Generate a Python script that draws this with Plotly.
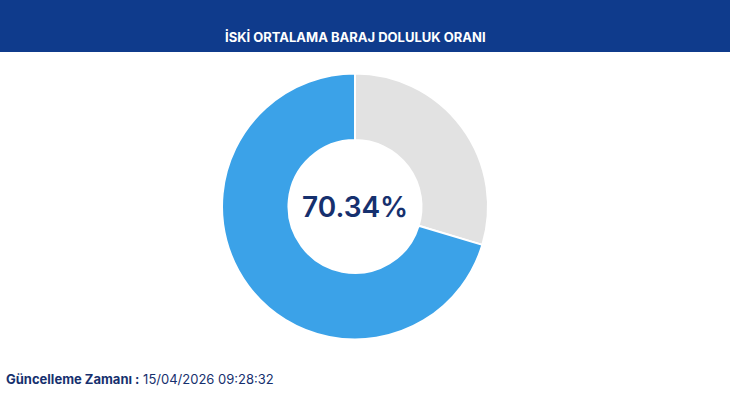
import plotly.graph_objects as go

labels = ["Boş", "Dolu"]
values = [29.66, 70.34]
colors = ["#e2e2e2", "#3ba2e8"]
title_text = "İSKİ ORTALAMA BARAJ DOLULUK ORANI"
update_label = "Güncelleme Zamanı :"
update_time = "15/04/2026 09:28:32"

W, H = 730, 410

fig = go.Figure(go.Pie(
    labels=labels,
    values=values,
    hole=0.5,
    sort=False,
    direction="clockwise",
    marker=dict(colors=colors, line=dict(color="white", width=2)),
    textinfo="none",
    hoverinfo="label+value",
    domain=dict(x=[222 / W, 488 / W], y=[(H - 340) / H, (H - 73) / H]),
))

fig.update_layout(
    width=W, height=H,
    margin=dict(l=0, r=0, t=0, b=0),
    paper_bgcolor="white",
    plot_bgcolor="white",
    showlegend=False,
    font=dict(family="Inter, Noto Sans, sans-serif"),
    shapes=[dict(type="rect", xref="paper", yref="paper",
                 x0=0, x1=1, y0=1 - 52 / H, y1=1,
                 fillcolor="#0f3b8c", line=dict(width=0), layer="below")],
)

fig.add_annotation(x=355 / W, y=1 - 27 / H, xref="paper", yref="paper",
                   text="<b>" + title_text + "</b>", showarrow=False,
                   font=dict(size=13, color="white"))

pct = f"{values[1]:.2f}%"
fig.add_annotation(x=355 / W, y=1 - 207 / H, xref="paper", yref="paper",
                   text=pct, showarrow=False,
                   font=dict(size=28, color="#16306e", family="Inter SemiBold, Inter, sans-serif"))

fig.add_annotation(x=4 / W, y=1 - 389 / H, xref="paper", yref="paper",
                   xanchor="left",
                   text="<b>" + update_label + "</b> " + update_time,
                   showarrow=False,
                   font=dict(size=13, color="#16306e"))

fig.write_html("out.html", config={"displayModeBar": False},
               post_script="document.body.style.margin='0';")
